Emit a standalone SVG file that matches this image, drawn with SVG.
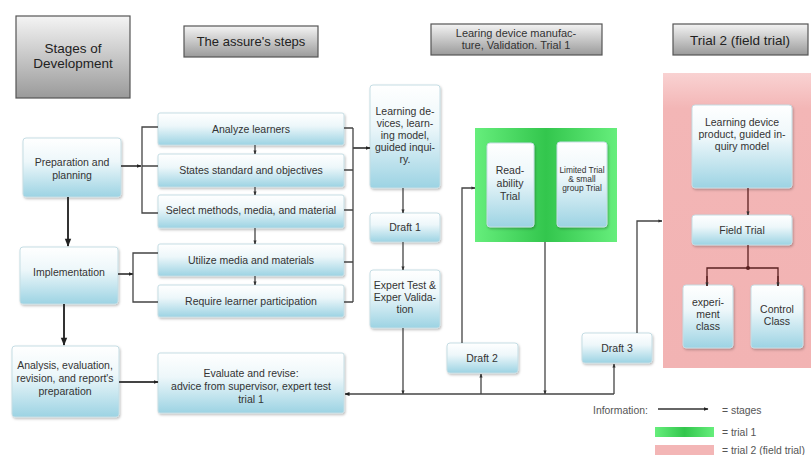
<svg xmlns="http://www.w3.org/2000/svg" width="812" height="455" viewBox="0 0 812 455">
<defs>
<linearGradient id="gNode" x1="0" y1="0" x2="0" y2="1">
<stop offset="0" stop-color="#ffffff"/>
<stop offset="0.4" stop-color="#edf7fa"/>
<stop offset="1" stop-color="#9cd3e3"/>
</linearGradient>
<linearGradient id="gHead" x1="0" y1="0" x2="0" y2="1">
<stop offset="0" stop-color="#f4f4f4"/>
<stop offset="1" stop-color="#9a9a9a"/>
</linearGradient>
<linearGradient id="gGreen" x1="0" y1="0" x2="1" y2="0">
<stop offset="0" stop-color="#66ee7c"/>
<stop offset="0.5" stop-color="#33c64d"/>
<stop offset="1" stop-color="#66ee7c"/>
</linearGradient>
<linearGradient id="gPink" x1="0" y1="0" x2="0" y2="1">
<stop offset="0" stop-color="#f9d2d2"/>
<stop offset="0.12" stop-color="#f3b6b6"/>
<stop offset="1" stop-color="#f2b3b3"/>
</linearGradient>
<filter id="sh" x="-10%" y="-10%" width="130%" height="130%">
<feDropShadow dx="1" dy="1.5" stdDeviation="1.2" flood-color="#000" flood-opacity="0.25"/>
</filter>
<marker id="ah" viewBox="0 0 10 10" refX="9" refY="5" markerWidth="5" markerHeight="5" orient="auto" markerUnits="userSpaceOnUse">
<path d="M0,1 L10,5 L0,9 z" fill="#222"/>
</marker>
<marker id="ahS" viewBox="0 0 10 10" refX="9" refY="5" markerWidth="4" markerHeight="5" orient="auto" markerUnits="userSpaceOnUse">
<path d="M0,1 L10,5 L0,9 z" fill="#333"/>
</marker>
<marker id="ahB" viewBox="0 0 10 10" refX="9" refY="5" markerWidth="9" markerHeight="8" orient="auto" markerUnits="userSpaceOnUse">
<path d="M0,1 L10,5 L0,9 z" fill="#222"/>
</marker>
</defs>
<style>
.node{fill:url(#gNode);stroke:#c5dde4;stroke-width:1;filter:url(#sh)}
.head{fill:url(#gHead);stroke:#555;stroke-width:1.2}
text{font-family:"Liberation Sans",Arial,sans-serif;fill:#333;text-anchor:middle}
.t{font-size:10.5px}
.ts{font-size:8.4px}
.th{font-size:13px;fill:#222}
.ln{fill:none;stroke:#444;stroke-width:1.3}
.lt{fill:none;stroke:#333;stroke-width:2}
.lg{font-size:10.4px;text-anchor:start;fill:#555}
</style>
<rect width="812" height="455" fill="#ffffff"/>

<g id="hdr-stages"><rect class="head" x="16" y="16" width="114" height="82"/><text class="th" x="73" y="53" style="font-size:13.5px">Stages of</text><text class="th" x="73" y="68" style="font-size:13.5px">Development</text></g>
<g id="hdr-assure"><rect class="head" x="184" y="26" width="134" height="31"/><text class="th" x="251" y="46">The assure's steps</text></g>
<g id="hdr-manuf"><rect class="head" x="431" y="24" width="171" height="31"/><text class="t" x="516" y="37" style="font-size:11px">Learing device manufac-</text><text class="t" x="516" y="49" style="font-size:11px">ture, Validation. Trial 1</text></g>
<g id="hdr-trial2"><rect class="head" x="673" y="24" width="135" height="31"/><text class="th" x="740" y="45" style="font-size:13.5px">Trial 2 (field trial)</text></g>

<g id="trial1-area"><rect x="475" y="128" width="142" height="114" fill="url(#gGreen)"/></g>
<g id="trial2-area"><rect x="663" y="73" width="148" height="295" fill="url(#gPink)"/></g>

<g id="prep"><rect class="node" x="23" y="138" width="98" height="59" rx="3"/><text class="t" x="72" y="166">Preparation and</text><text class="t" x="72" y="179">planning</text></g>
<g id="impl"><rect class="node" x="20" y="247" width="98" height="57" rx="3"/><text class="t" x="69" y="276">Implementation</text></g>
<g id="analysis"><rect class="node" x="12" y="346" width="107" height="71" rx="3"/><text class="t" x="65" y="369">Analysis, evaluation,</text><text class="t" x="65" y="382">revision, and report's</text><text class="t" x="65" y="395">preparation</text></g>

<g id="s-analyze"><rect class="node" x="158" y="113" width="186" height="32" rx="2"/><text class="t" x="251" y="133">Analyze learners</text></g>
<g id="s-states"><rect class="node" x="158" y="154" width="186" height="33" rx="2"/><text class="t" x="251" y="174">States standard and objectives</text></g>
<g id="s-select"><rect class="node" x="158" y="195" width="186" height="33" rx="2"/><text class="t" x="251" y="214">Select methods, media, and material</text></g>
<g id="s-utilize"><rect class="node" x="158" y="244" width="186" height="32" rx="2"/><text class="t" x="251" y="264">Utilize media and materials</text></g>
<g id="s-require"><rect class="node" x="158" y="285" width="186" height="32" rx="2"/><text class="t" x="251" y="305">Require learner participation</text></g>
<g id="evaluate"><rect class="node" x="158" y="353" width="186" height="60" rx="2"/><text class="t" x="251" y="377">Evaluate and revise:</text><text class="t" x="251" y="390">advice from supervisor, expert test</text><text class="t" x="251" y="403">trial 1</text></g>

<g id="learning-devices"><rect class="node" x="370" y="85" width="70" height="103" rx="3"/><text class="t" x="405" y="115">Learning de-</text><text class="t" x="405" y="127">vices, learn-</text><text class="t" x="405" y="139">ing model,</text><text class="t" x="405" y="151">guided inqui-</text><text class="t" x="405" y="163">ry.</text></g>
<g id="draft1"><rect class="node" x="370" y="213" width="70" height="29" rx="3"/><text class="t" x="405" y="231">Draft 1</text></g>
<g id="expert"><rect class="node" x="370" y="270" width="70" height="58" rx="3"/><text class="t" x="405" y="289">Expert Test &amp;</text><text class="t" x="405" y="301">Exper Valida-</text><text class="t" x="405" y="313">tion</text></g>

<g id="readability"><rect class="node" x="487" y="143" width="47" height="84" rx="3"/><text class="t" x="510" y="174">Read-</text><text class="t" x="510" y="187">ability</text><text class="t" x="510" y="200">Trial</text></g>
<g id="limited"><rect class="node" x="557" y="142" width="50" height="85" rx="3"/><text class="ts" x="582" y="173">Limited Trial</text><text class="ts" x="582" y="182">&amp; small</text><text class="ts" x="582" y="191">group Trial</text></g>

<g id="draft2"><rect class="node" x="447" y="343" width="71" height="30" rx="3"/><text class="t" x="482" y="362">Draft 2</text></g>
<g id="draft3"><rect class="node" x="582" y="333" width="70" height="30" rx="3"/><text class="t" x="617" y="352">Draft 3</text></g>

<g id="product"><rect class="node" x="692" y="105" width="100" height="83" rx="3"/><text class="t" x="742" y="126">Learning device</text><text class="t" x="742" y="138">product, guided in-</text><text class="t" x="742" y="150">quiry model</text></g>
<g id="field"><rect class="node" x="692" y="215" width="100" height="30" rx="3"/><text class="t" x="742" y="234">Field Trial</text></g>
<g id="experiment"><rect class="node" x="683" y="285" width="50" height="63" rx="3"/><text class="t" x="708" y="306">experi-</text><text class="t" x="708" y="318">ment</text><text class="t" x="708" y="330">class</text></g>
<g id="control"><rect class="node" x="751" y="285" width="52" height="63" rx="3"/><text class="t" x="777" y="313">Control</text><text class="t" x="777" y="325">Class</text></g>

<g id="connectors">
<path class="lt" d="M68,197 V246" marker-end="url(#ahB)"/>
<path class="lt" d="M64,304 V345" marker-end="url(#ahB)"/>
<path class="ln" d="M121,166 H141" marker-end="url(#ah)" style="stroke-width:1.8"/>
<path class="ln" d="M158,127 H142 V213 H158 M142,166 H158"/>
<path class="ln" d="M118,274 H133" marker-end="url(#ah)" style="stroke-width:1.8"/>
<path class="ln" d="M158,253 H133 V302 H158"/>
<path class="ln" d="M255,145 V154" marker-end="url(#ahS)"/>
<path class="ln" d="M255,187 V195" marker-end="url(#ahS)"/>
<path class="ln" d="M255,228 V244" marker-end="url(#ahS)"/>
<path class="ln" d="M255,276 V285" marker-end="url(#ahS)"/>
<path class="ln" d="M344,128 H353 M344,170 H353 M344,210 H353 M344,262 H353 M344,302 H353 M353,128 V302"/>
<path class="ln" d="M353,148 H370" marker-end="url(#ah)" style="stroke-width:1.8"/>
<path class="ln" d="M403,188 V213" marker-end="url(#ahS)"/>
<path class="ln" d="M403,242 V270" marker-end="url(#ahS)"/>
<path class="ln" d="M119,382 H158" marker-end="url(#ah)" style="stroke-width:2"/>
<path class="ln" d="M403,328 V394" marker-end="url(#ahS)"/>
<path class="ln" d="M614,394 H345" marker-end="url(#ah)"/>
<path class="ln" d="M481,394 V374" marker-end="url(#ahS)"/>
<path class="ln" d="M614,394 V364" marker-end="url(#ahS)"/>
<path class="ln" d="M545,242 V394" marker-end="url(#ahS)"/>
<path class="ln" d="M462,343 V188 H475" marker-end="url(#ahS)"/>
<path class="ln" d="M637,333 V221 H662" marker-end="url(#ahS)"/>
<path class="ln" d="M748,188 V215" marker-end="url(#ahS)" style="stroke:#5a2020"/>
<path class="ln" d="M748,245 V268 M707,286 V268 H778 V286" style="stroke:#5a2020"/>
<path class="ln" d="M707,276 V286" marker-end="url(#ahS)" style="stroke:#5a2020"/>
<path class="ln" d="M778,276 V286" marker-end="url(#ahS)" style="stroke:#5a2020"/>
<circle cx="748" cy="268" r="2" fill="#5a2020"/>
</g>

<g id="legend">
<text class="lg" x="593" y="414">Information:</text>
<path class="ln" d="M658,409 H708" marker-end="url(#ah)" style="stroke:#333;stroke-width:1.5"/>
<text class="lg" x="722" y="414">= stages</text>
<rect x="655" y="427" width="59" height="10" fill="url(#gGreen)"/>
<text class="lg" x="722" y="436">= trial 1</text>
<rect x="655" y="445" width="59" height="10" fill="#f3b6b6"/>
<text class="lg" x="722" y="454">= trial 2 (field trial)</text>
</g>
</svg>
